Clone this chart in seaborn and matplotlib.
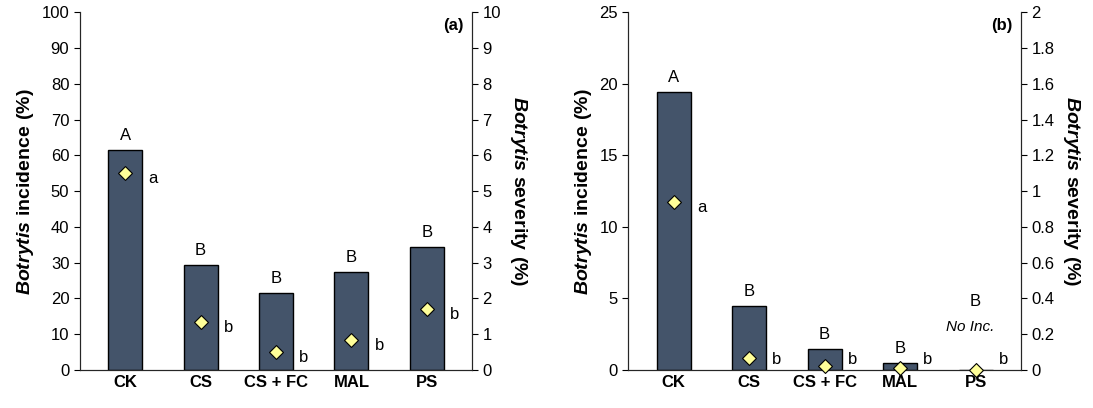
import matplotlib
matplotlib.use('Agg')
import matplotlib.pyplot as plt
import seaborn as sns
import pandas as pd

sns.set_style('ticks')
plt.rcParams['font.family'] = ['Liberation Sans', 'DejaVu Sans']
plt.rcParams['mathtext.fontset'] = 'custom'
plt.rcParams['mathtext.rm'] = 'Liberation Sans'
plt.rcParams['mathtext.bf'] = 'Liberation Sans:bold'
plt.rcParams['mathtext.bfit'] = 'Liberation Sans:italic:bold'
plt.rcParams['text.color'] = 'black'
plt.rcParams['xtick.color'] = 'black'
plt.rcParams['ytick.color'] = 'black'
plt.rcParams['axes.labelcolor'] = 'black'

treatments = ['CK', 'CS', 'CS + FC', 'MAL', 'PS']

inc_a = [61.5, 29.5, 21.5, 27.5, 34.5]
sev_a = [5.5, 1.35, 0.5, 0.85, 1.7]
inc_b = [19.4, 4.5, 1.5, 0.5, 0.0]
sev_b = [0.94, 0.07, 0.02, 0.01, 0.0]

upper_a = ['A', 'B', 'B', 'B', 'B']
lower_a = ['a', 'b', 'b', 'b', 'b']
upper_b = ['A', 'B', 'B', 'B', 'B']
lower_b = ['a', 'b', 'b', 'b', 'b']

fig = plt.figure(figsize=(10.93, 4.08), dpi=100)
ax1 = fig.add_axes([0.073, 0.093, 0.359, 0.877])
ax2 = fig.add_axes([0.575, 0.093, 0.359, 0.877])


def panel(ax, inc, sev, upper, lower, ymax, ystep, smax, sstep, label, lowfix):
    df = pd.DataFrame({'t': treatments, 'inc': inc, 'sev': sev})
    sns.barplot(data=df, x='t', y='inc', ax=ax, color='#44546A', edgecolor='black',
                linewidth=1, width=0.45, saturation=1)
    ax.set_xlim(-0.6, 4.6)
    ax.set_ylim(0, ymax)
    ax.set_yticks([i * ystep for i in range(int(round(ymax / ystep)) + 1)])
    ax.set_xlabel('')
    ax.set_ylabel('$\\bfit{Botrytis}$ $\\bf{incidence\\ (\\%)}$', fontsize=14)
    ax.tick_params(axis='y', labelsize=12, direction='out', length=4)
    ax.tick_params(axis='x', labelsize=12, length=0)
    for t in ax.get_xticklabels():
        t.set_fontweight('bold')
    tw = ax.twinx()
    tw.set_ylim(0, smax)
    n = int(round(smax / sstep))
    ticks = [i * sstep for i in range(n + 1)]
    tw.set_yticks(ticks)
    tw.set_yticklabels([f'{v:g}' for v in ticks])
    tw.tick_params(axis='y', labelsize=12, length=4)
    tw.scatter(range(len(sev)), sev, marker='D', s=50, color='#FFFF99',
               edgecolor='black', linewidth=0.8, zorder=5, clip_on=False)
    tw.set_ylabel('$\\bfit{Botrytis}$ $\\bf{severity\\ (\\%)}$', fontsize=14,
                  rotation=270, labelpad=20)
    for i, (v, u) in enumerate(zip(inc, upper)):
        ax.annotate(u, (i, v), xytext=(0, 5), textcoords='offset points',
                    ha='center', va='bottom', fontsize=12)
    for i, (v, l) in enumerate(zip(sev, lower)):
        yy = max(v, lowfix[i])
        tw.annotate(l, (i, yy), xytext=(20, -4), textcoords='offset points',
                    ha='center', va='center', fontsize=12)
    ax.text(4.35, ymax * 0.985, label, ha='center', va='top', fontsize=12, fontweight='bold')
    sns.despine(ax=ax, top=True, right=False)
    tw.spines['top'].set_visible(False)
    return tw


panel(ax1, inc_a, sev_a, upper_a, lower_a, 100, 10, 10, 1, '(a)',
      [0, 0, 0.5, 0.85, 1.7])
panel(ax2, inc_b, sev_b, upper_b, lower_b, 25, 5, 2, 0.2, '(b)',
      [0, 0.09, 0.09, 0.09, 0.09])
ax2.annotate('No Inc.', (4, 0), xytext=(-4, 26), textcoords='offset points',
             ha='center', va='bottom', fontsize=11, style='italic')
# raise the PS "B" in panel b above "No Inc."
for t in ax2.texts:
    if t.get_text() == 'B' and abs(t.xy[0] - 4) < 0.01:
        t.set_position((0, 44))

fig.savefig('out.png', dpi=100)
